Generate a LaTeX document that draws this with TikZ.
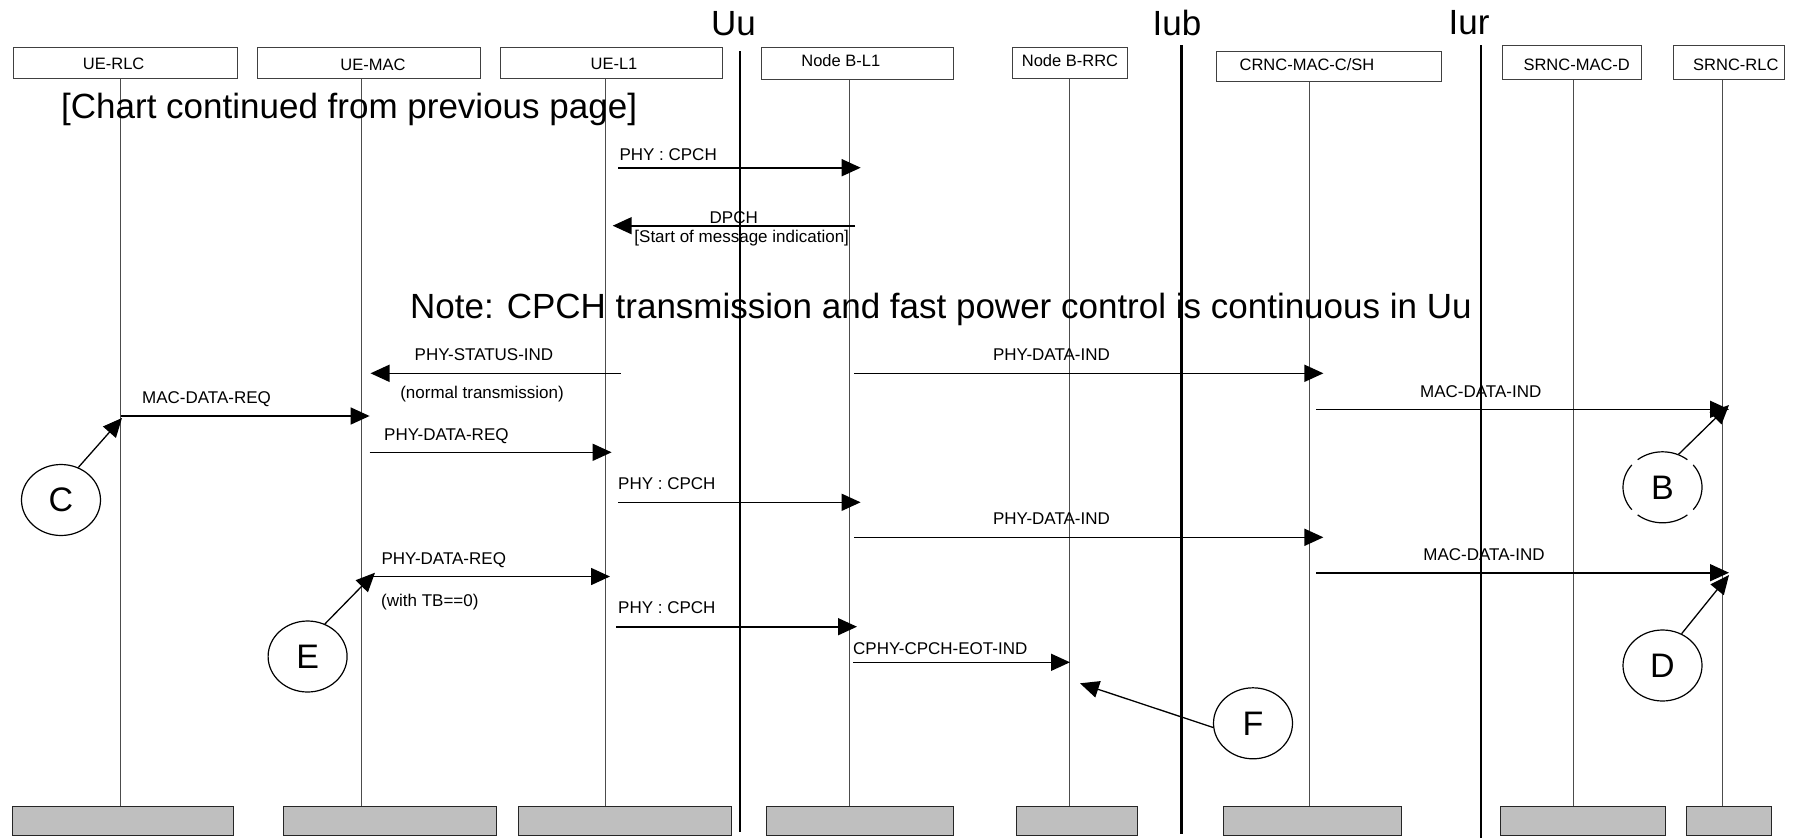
\documentclass[tikz,border=0pt]{standalone}
\usepackage{fontspec}
\setmainfont{Liberation Sans}
\usetikzlibrary{arrows.meta,shapes.geometric}
\begin{document}
\begin{tikzpicture}[x=1pt,y=-1pt,
  topbox/.style={draw=black!75,line width=0.9pt,inner sep=0pt,minimum height=31pt},
  botbox/.style={draw=black!85,fill=black!25,line width=0.9pt,inner sep=0pt,minimum height=28.3pt},
  boxlbl/.style={font=\fontsize{16.5}{19}\selectfont,inner sep=0pt},
  lbl/.style={font=\fontsize{17}{20}\selectfont,inner sep=0pt},
  big/.style={font=\fontsize{35}{40}\selectfont,inner sep=0pt},
  life/.style={draw=black!70,line width=1pt},
  iface/.style={line width=2.2pt},
  msg/.style={line width=1.6pt,-{Triangle[length=19pt,width=17pt]}},
  ptr/.style={line width=1.3pt,-{Triangle[length=19pt,width=17pt]}},
  circ/.style={ellipse,line width=1.2pt,minimum width=79pt,minimum height=71pt,inner sep=0pt,font=\fontsize{34}{40}\selectfont}
]
\useasboundingbox (0,0) rectangle (1807,838);

% top boxes
\node[topbox,minimum width=223.7pt] (t1) at (125.2,62.8) {};
\node[topbox,minimum width=223.7pt] (t2) at (368.9,62.8) {};
\node[topbox,minimum width=221.9pt] (t3) at (611.7,62.8) {};
\node[topbox,minimum width=191.7pt,minimum height=32pt] (t4) at (857.2,63.5) {};
\node[topbox,minimum width=114.6pt] (t5) at (1069.7,62.8) {};
\node[topbox,minimum width=225pt,minimum height=30pt] (t6) at (1328.5,66.7) {};
\node[topbox,minimum width=139pt,minimum height=33.6pt] (t7) at (1571.5,62.5) {};
\node[topbox,minimum width=111pt,minimum height=33.6pt] (t8) at (1728.5,62.5) {};

\node[boxlbl,anchor=base] (l1) at (113.7,69.3) {UE-RLC};
\node[boxlbl,anchor=base] (l2) at (373,70.5) {UE-MAC};
\node[boxlbl,anchor=base] (l3) at (614,69.3) {UE-L1};
\node[boxlbl,anchor=base] (l4) at (840.8,66.7) {Node B-L1};
\node[boxlbl,anchor=base] (l5) at (1070,66.7) {Node B-RRC};
\node[boxlbl,anchor=base] (l6) at (1307,70.5) {CRNC-MAC-C/SH};
\node[boxlbl,anchor=base] (l7) at (1576.7,70.5) {SRNC-MAC-D};
\node[boxlbl,anchor=base] (l8) at (1735.8,70.5) {SRNC-RLC};

% bottom boxes
\node[botbox,minimum width=220.6pt] (f1) at (123,820.9) {};
\node[botbox,minimum width=213.7pt] (f2) at (389.9,820.9) {};
\node[botbox,minimum width=213.7pt] (f3) at (624.9,820.9) {};
\node[botbox,minimum width=186.6pt] (f4) at (859.7,820.9) {};
\node[botbox,minimum width=120.3pt] (f5) at (1076.9,820.9) {};
\node[botbox,minimum width=178.7pt] (f6) at (1312.4,820.9) {};
\node[botbox,minimum width=164.8pt] (f7) at (1582.8,820.9) {};
\node[botbox,minimum width=85.3pt] (f8) at (1728.7,820.9) {};

% lifeline x positions
\coordinate (x1) at (120,0);
\coordinate (x2) at (361,0);
\coordinate (x3) at (605.7,0);
\coordinate (x4) at (849,0);
\coordinate (x5) at (1069,0);
\coordinate (x6) at (1309.7,0);
\coordinate (x7) at (1573.3,0);
\coordinate (x8) at (1722,0);
\foreach \i in {1,...,8}{
  \draw[life] (t\i.south -| x\i) -- (f\i.north -| x\i);
}

% interfaces
\node[big,anchor=base] (uu) at (733.5,35) {Uu};
\node[big,anchor=base] (iub) at (1177,35) {Iub};
\node[big,anchor=base] (iur) at (1469,34) {Iur};
\coordinate (uuT) at (740,51);  \coordinate (uuB) at (740,832);
\coordinate (iubT) at (1181.5,45); \coordinate (iubB) at (1181.5,834);
\coordinate (iurT) at (1481,45); \coordinate (iurB) at (1481,838);
\draw[iface] (uuT) -- (uuB);
\draw[iface] (iubT) -- (iubB);
\draw[iface] (iurT) -- (iurB);

% big texts
\node[big,anchor=base west] (cont) at (61,118.5) {[Chart continued from previous page]};
\node[big,anchor=base west] (note) at (410,318.5) {Note: CPCH transmission and fast power control is continuous in Uu};

% message end points
\coordinate (a1s) at (618.3,167.7);  \coordinate (a1e) at (860.7,167.7);
\coordinate (a2s) at (855,225.7);    \coordinate (a2e) at (612.7,225.7);
\coordinate (a3s) at (620.5,373.3);  \coordinate (a3e) at (370.5,373.3);
\coordinate (a4s) at (854,373.3);    \coordinate (a4e) at (1323.4,373.3);
\coordinate (a5s) at (120.5,416);    \coordinate (a5e) at (369.6,416);
\coordinate (a6s) at (1316.3,409.3); \coordinate (a6e) at (1729,409.3);
\coordinate (a7s) at (369.6,452.3);  \coordinate (a7e) at (611.6,452.3);
\coordinate (a8s) at (618.3,502.3);  \coordinate (a8e) at (860.6,502.3);
\coordinate (a9s) at (854,537.3);    \coordinate (a9e) at (1323.4,537.3);
\coordinate (a10s) at (1316.3,572.7);\coordinate (a10e) at (1729,572.7);
\coordinate (a11s) at (372,576.5);   \coordinate (a11e) at (610,576.5);
\coordinate (a12s) at (616,626.7);   \coordinate (a12e) at (857,626.7);
\coordinate (a13s) at (853,662.3);   \coordinate (a13e) at (1070,662.3);

\foreach \i in {1,...,13}{
  \draw[msg] (a\i s) -- (a\i e);
}

% message labels
\node[lbl,anchor=base west] (m1) at (619.3,160) {PHY : CPCH};
\node[lbl,anchor=base] (m2) at (733.8,223.3) {DPCH};
\node[lbl,anchor=base] (m2b) at (741.7,242.7) {[Start of message indication]};
\node[lbl,anchor=base] (m3) at (484,360.7) {PHY-STATUS-IND};
\node[lbl,anchor=base] (m3b) at (482,398.3) {(normal transmission)};
\node[lbl,anchor=base] (m4) at (1051.5,360.7) {PHY-DATA-IND};
\node[lbl,anchor=base west] (m5) at (142,403.3) {MAC-DATA-REQ};
\node[lbl,anchor=base] (m6) at (1480.7,397.3) {MAC-DATA-IND};
\node[lbl,anchor=base west] (m7) at (384,440) {PHY-DATA-REQ};
\node[lbl,anchor=base west] (m8) at (618,489) {PHY : CPCH};
\node[lbl,anchor=base] (m9) at (1051.5,524.3) {PHY-DATA-IND};
\node[lbl,anchor=base] (m10) at (1484,560) {MAC-DATA-IND};
\node[lbl,anchor=base west] (m11) at (381.4,564.5) {PHY-DATA-REQ};
\node[lbl,anchor=base west] (m11b) at (381,606.7) {(with TB==0)};
\node[lbl,anchor=base west] (m12) at (618,613.3) {PHY : CPCH};
\node[lbl,anchor=base west] (m13) at (853,654.3) {CPHY-CPCH-EOT-IND};

% circled letters
\node[circ,draw] (C) at (61,500) {C};
\node[circ] (B) at (1662.5,487.3) {B};
\node[circ,draw] (D) at (1662.5,665.5) {D};
\node[circ,draw] (E) at (307.6,656.5) {E};
\node[circ,draw] (F) at (1253,723.3) {F};
% broken outline of B
\begin{scope}[shift={(B.center)},line width=1.2pt]
  \draw (-39:39.5pt and 35.5pt) arc[start angle=-39,end angle=39,x radius=39.5pt,y radius=35.5pt];
  \draw (51:39.5pt and 35.5pt) arc[start angle=51,end angle=129,x radius=39.5pt,y radius=35.5pt];
  \draw (141:39.5pt and 35.5pt) arc[start angle=141,end angle=219,x radius=39.5pt,y radius=35.5pt];
  \draw (231:39.5pt and 35.5pt) arc[start angle=231,end angle=309,x radius=39.5pt,y radius=35.5pt];
\end{scope}

\coordinate (Ct) at (122,418);
\coordinate (Bt) at (1729,405);
\coordinate (Dt) at (1729,575);
\coordinate (Et) at (375,572.7);
\coordinate (Ft) at (1080,683.3);
\draw[ptr] (C.62) -- (Ct);
\draw[ptr] (B.64) -- (Bt);
\draw[ptr] (D.59) -- (Dt);
\draw[ptr] (E.62) -- (Et);
\draw[ptr] (F.186) -- (Ft);
\end{tikzpicture}
\end{document}
